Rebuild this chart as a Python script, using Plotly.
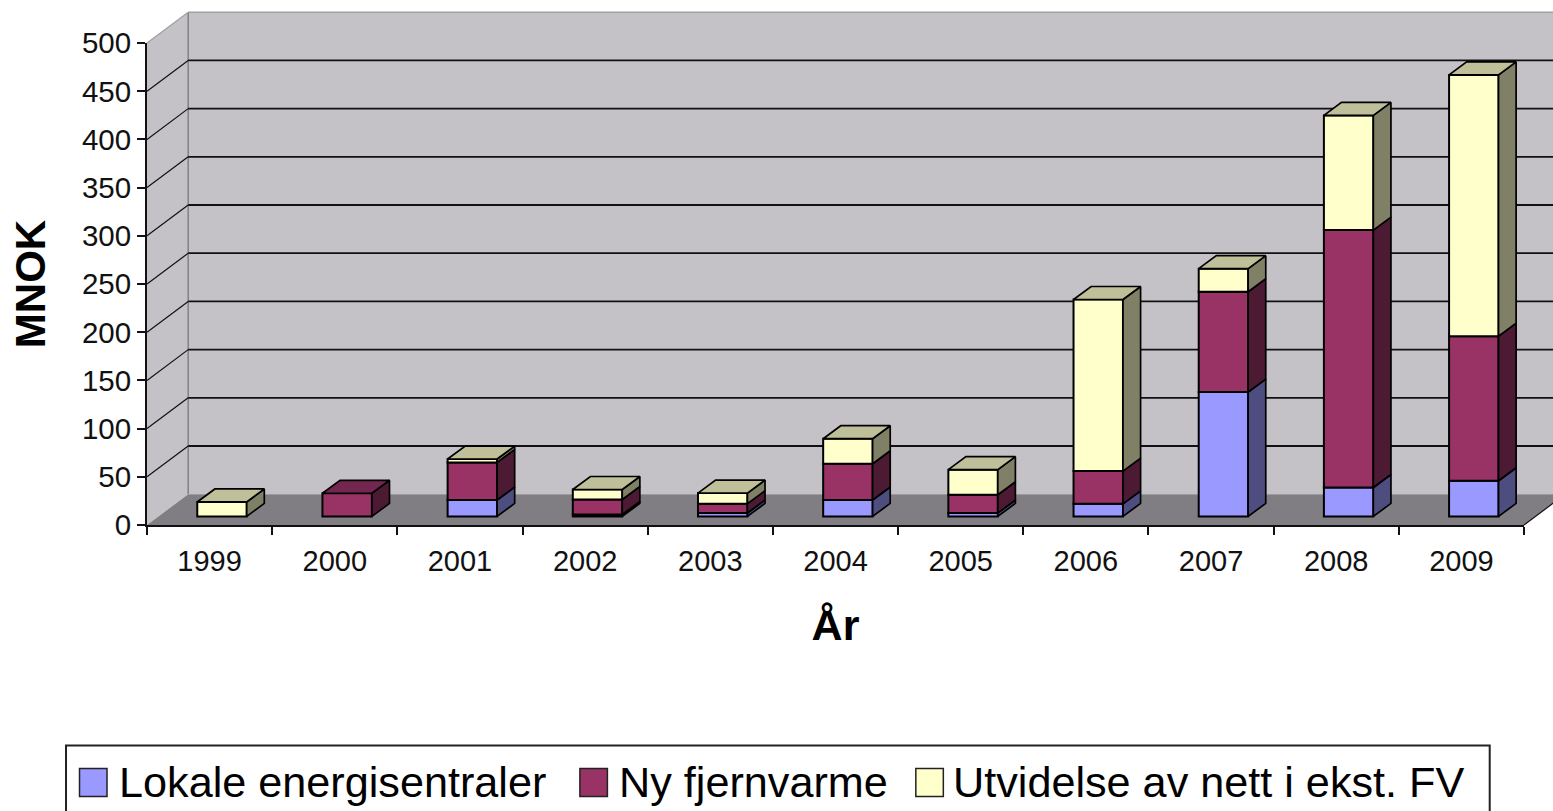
import plotly.graph_objects as go

YEARS = ["1999", "2000", "2001", "2002", "2003", "2004", "2005", "2006", "2007", "2008", "2009"]
LOKALE = [0, 0, 17, 2, 3.5, 17, 3.5, 13, 129, 30, 37]
NY_FJERNVARME = [0, 24, 39, 15.5, 9.7, 37.6, 19, 34, 104, 267, 150]
UTVIDELSE = [15, 0, 3.5, 10.4, 11, 26, 26, 178, 24, 119, 271]
Y_TICKS = [0, 50, 100, 150, 200, 250, 300, 350, 400, 450, 500]
SERIES_NAMES = ["Lokale energisentraler", "Ny fjernvarme", "Utvidelse av nett i ekst. FV"]

FRONT = ["#9999FF", "#993366", "#FFFFCC"]
SIDE = ["#4D4D80", "#4D1A33", "#808066"]
TOP = ["#7373BF", "#732650", "#BFBF99"]
WALL = "#C4C2C6"
FLOOR = "#807E82"
FONT = "Liberation Sans"

W, H = 1553, 811
L, R, T, B = 147.0, 1524.3, 43.0, 525.3
N = len(YEARS)
CAT = (R - L) / N
PXV = (B - T) / 500

WALL_DX = 41.2 / CAT
WALL_DY = 30.8 / PXV
BAR_BASE = 8.6 / PXV
BAR_SHIFT = 0.099
BAR_W = 0.395
BAR_DX = 17.6 / CAT
BAR_DY = 13 / PXV


def px(pos):
    return (pos + 0.5) / N


def py(val):
    return val / 500


def pxx(p):
    return (p - L) / (R - L)


def pyy(p):
    return (B - p) / (B - T)


def poly(points, **kw):
    path = "M" + "L".join(f"{a},{b}" for a, b in points) + "Z"
    return dict(type="path", path=path, xref="paper", yref="paper", layer="below", **kw)


def seg(x0, y0, x1, y1, color, width):
    return dict(type="line", x0=x0, y0=y0, x1=x1, y1=y1, xref="paper", yref="paper", layer="below",
                line=dict(color=color, width=width))


left, right = -0.5, N - 0.5
shapes = [
    # back wall, runs off the right of the page
    poly([(px(left + WALL_DX), py(WALL_DY)), (px(left + WALL_DX), py(500 + WALL_DY)),
          (px(right + WALL_DX), py(500 + WALL_DY)), (px(right + WALL_DX), py(WALL_DY))],
         fillcolor=WALL, line=dict(width=0)),
    # side wall
    poly([(px(left), py(0)), (px(left), py(500)), (px(left + WALL_DX), py(500 + WALL_DY)),
          (px(left + WALL_DX), py(WALL_DY))], fillcolor=WALL, line=dict(width=0)),
    # floor
    poly([(px(left), py(0)), (px(left + WALL_DX), py(WALL_DY)), (px(right + WALL_DX), py(WALL_DY)),
          (px(right), py(0))], fillcolor=FLOOR, line=dict(width=0)),
    seg(px(left + WALL_DX), py(WALL_DY), px(left + WALL_DX), py(500 + WALL_DY), "#808080", 1.5),
    seg(px(left + WALL_DX), py(500 + WALL_DY), px(right + WALL_DX), py(500 + WALL_DY), "#A0A0A0", 1.5),
    seg(px(left), py(500), px(left + WALL_DX), py(500 + WALL_DY), "#A0A0A0", 1.2),
    seg(px(right), py(0), px(right + WALL_DX), py(WALL_DY), "#111111", 1.2),
]
for v in Y_TICKS[1:-1]:
    shapes.append(seg(px(left), py(v), px(left + WALL_DX), py(v + WALL_DY), "#111111", 1.2))
    shapes.append(seg(px(left + WALL_DX), py(v + WALL_DY), px(right + WALL_DX), py(v + WALL_DY), "#111111", 1.8))

fig = go.Figure()
stack = [0.0] * N
all_series = [LOKALE, NY_FJERNVARME, UTVIDELSE]
tops = [-1] * N
for s, vals in enumerate(all_series):
    for i, v in enumerate(vals):
        if v > 0:
            tops[i] = s

for s, vals in enumerate(all_series):
    bases = [BAR_BASE + c for c in stack]
    fig.add_trace(go.Bar(
        x=YEARS, y=[v if v > 0 else None for v in vals], base=bases, name=SERIES_NAMES[s],
        width=BAR_W, offset=-BAR_W / 2 + BAR_SHIFT,
        marker=dict(color=FRONT[s], line=dict(color="#000000", width=2)), showlegend=False,
    ))
    sx, sy, tx, ty = [], [], [], []
    for i, v in enumerate(vals):
        if v <= 0:
            continue
        xr = i + BAR_SHIFT + BAR_W / 2
        xl = xr - BAR_W
        b, t = bases[i], bases[i] + v
        sx += [xr, xr + BAR_DX, xr + BAR_DX, xr, xr, None]
        sy += [b, b + BAR_DY, t + BAR_DY, t, b, None]
        if tops[i] == s:
            tx += [xl, xl + BAR_DX, xr + BAR_DX, xr, xl, None]
            ty += [t, t + BAR_DY, t + BAR_DY, t, t, None]
    for xs, ys, col in ((sx, sy, SIDE[s]), (tx, ty, TOP[s])):
        if xs:
            fig.add_trace(go.Scatter(
                x=xs, y=ys, xaxis="x2", yaxis="y", mode="lines", fill="toself", fillcolor=col,
                line=dict(color="#000000", width=1.7), hoverinfo="skip", showlegend=False,
            ))
    stack = [c + v for c, v in zip(stack, vals)]

# legend box
annotations = []
shapes.append(dict(type="rect", xref="paper", yref="paper", x0=pxx(66), x1=pxx(1490), y0=pyy(746), y1=pyy(830),
                   fillcolor="#FFFFFF", line=dict(color="#222222", width=2), layer="below"))
LEG_SWATCH_X = [79.5, 580, 916]
LEG_TEXT_X = [117, 617, 951]
for s, name in enumerate(SERIES_NAMES):
    shapes.append(dict(type="rect", xref="paper", yref="paper", x0=pxx(LEG_SWATCH_X[s]),
                       x1=pxx(LEG_SWATCH_X[s] + 27.5), y0=pyy(769), y1=pyy(797), fillcolor=FRONT[s],
                       line=dict(color="#222222", width=1.5), layer="below"))
    annotations.append(dict(text=name, xref="paper", yref="paper", x=pxx(LEG_TEXT_X[s]), y=pyy(782),
                            xanchor="left", yanchor="middle", showarrow=False,
                            font=dict(family=FONT, size=43.2, color="#000000")))

fig.update_layout(
    width=W, height=H, autosize=False, margin=dict(l=L, r=W - R, t=T, b=H - B, pad=0),
    paper_bgcolor="#FFFFFF", plot_bgcolor="rgba(0,0,0,0)", barmode="overlay", showlegend=False,
    font=dict(family=FONT, color="#000000"), shapes=shapes, annotations=annotations,
    xaxis=dict(type="category", categoryorder="array", categoryarray=YEARS, range=[left, right], tickson="boundaries",
               showgrid=False, zeroline=False, showline=True, linecolor="#111111", linewidth=1.8,
               ticks="outside", ticklen=8, tickwidth=1.6, tickcolor="#111111", ticklabelstandoff=9,
               tickfont=dict(family=FONT, size=29, color="#111111"),
               title=dict(text="<b>År</b>", standoff=34, font=dict(family=FONT, size=43, color="#000000"))),
    xaxis2=dict(type="linear", overlaying="x", anchor="y", range=[left, right], visible=False),
    yaxis=dict(range=[0, 500], tickvals=Y_TICKS, showgrid=False, zeroline=False, showline=True,
               linecolor="#111111", linewidth=1.8, ticks="outside", ticklen=8, tickwidth=1.6, tickcolor="#111111",
               tickfont=dict(family=FONT, size=29.5, color="#111111"),
               title=dict(text="<b>MNOK</b>", standoff=23, font=dict(family=FONT, size=42, color="#000000"))),
)
fig.write_html("out.html", config=dict(displayModeBar=False),
               post_script="document.body.style.margin='0';document.body.style.overflow='hidden';")
